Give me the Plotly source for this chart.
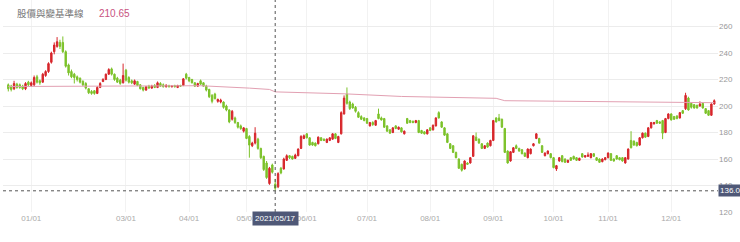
import plotly.graph_objects as go

# ---------------- data ----------------
open_ = [
    216, 215, 213, 216.5, 216, 215, 213, 218, 215.5, 216,
    222, 219, 218, 223, 226, 233, 241, 245, 248, 248,
    241, 231, 226, 224, 222, 221, 218.5, 217, 213, 211,
    211.5, 209.5, 214, 218.5, 220, 224, 228, 224, 221, 219.5,
    217.5, 227, 221.5, 219, 216.5, 218.5, 216, 214, 212, 215,
    213.5, 215.5, 214, 217, 216, 214.5, 215.5, 214.5, 215.5, 214,
    215.5, 215.5, 224, 221.5, 220, 217.5, 215, 219, 217.5, 215,
    212.5, 208, 209, 203.5, 203, 203, 200, 197, 190, 191,
    187.5, 185, 181, 183, 177, 170, 172, 175, 168, 162,
    157, 141.5, 155.5, 141, 139, 153, 152.5, 159, 162.5, 162,
    160.5, 162.5, 168, 175.5, 179, 176, 172.5, 172, 171.5, 176,
    175, 172.5, 174, 175, 179, 172.5, 179, 194, 209, 203,
    201.5, 199, 195, 192, 191, 190.5, 185, 187.5, 185.5, 194,
    191, 190.5, 185, 182, 180, 185, 182.5, 183.5, 179, 190.5,
    189, 188.5, 187.5, 189, 181.5, 180.5, 179, 183.5, 182, 185,
    195, 188, 183.5, 179, 171.5, 170, 165, 160, 156, 152.5,
    157, 157, 162, 176.5, 175, 171.5, 168, 172, 170, 174,
    191, 191, 190, 183, 166, 158.5, 165, 170, 168, 167,
    164.5, 161, 164, 170, 175.5, 175.5, 170, 162.5, 164, 164,
    161, 152.5, 158.5, 162.5, 160, 157.5, 161, 162, 161, 159,
    164, 161.5, 162, 161, 164, 161, 160, 158, 159.5, 161,
    164, 160, 162.5, 161, 161, 157, 160, 174, 173.5, 172.5,
    170.5, 176, 179.5, 177, 183.5, 186.5, 189, 188, 189, 180,
    190.5, 194, 192, 192.5, 191, 196.5, 198, 206, 202, 201,
    200.5, 200, 202, 198, 196.5, 193, 201.5,
]
high = [
    217, 216, 219, 217.5, 217, 216, 218, 219, 218.5, 223,
    223.5, 220, 225, 227, 233, 241, 248, 252, 250, 252.5,
    242, 232, 227.5, 225, 223, 221.5, 219.5, 218, 213.5, 212,
    212, 215, 218, 221, 224.5, 228.5, 229, 224.5, 222, 220.5,
    232, 228, 222.5, 220, 220, 219, 216.5, 214.5, 215, 216,
    216, 216.5, 218.5, 218, 217, 216.5, 216, 215.5, 216, 216,
    216, 221, 225, 222, 220.5, 218, 217.5, 220, 218, 216,
    213, 209, 210, 205.5, 205.5, 203.5, 201, 197.5, 197, 192,
    188, 186, 184, 183.5, 178, 173, 184, 176, 168.5, 162.5,
    158.5, 154, 156.5, 145, 150, 154, 161, 163.5, 163, 162.5,
    164, 168, 178, 178.5, 179.5, 176.5, 173, 172.5, 177, 176.5,
    175.5, 175.5, 176.5, 179.5, 179.5, 177.5, 196, 208, 214, 204,
    202.5, 200, 196, 193, 191.5, 191, 188, 188.5, 189.5, 198,
    192, 191, 185.5, 182.5, 184, 185.5, 184.5, 184, 181.5, 191,
    189.5, 189, 189.5, 189.5, 182, 181, 182.5, 184, 186, 191.5,
    196, 188.5, 184, 179.5, 172, 170.5, 165.5, 160.5, 156.5, 159,
    157.5, 161.5, 178, 180, 175.5, 172, 170.5, 172.5, 174.5, 189.5,
    191.5, 194, 190.5, 183.5, 166.5, 166, 169, 171, 168.5, 167.5,
    165, 168, 168, 172, 179.5, 176, 170.5, 165, 166.5, 164.5,
    161.5, 155.5, 161.5, 163, 160.5, 159.5, 161.5, 162.5, 161.5, 161,
    164.5, 163, 165, 164.5, 164.5, 161.5, 160.5, 160.5, 161.5, 165,
    164.5, 160.5, 163, 161.5, 161.5, 161.5, 168, 181, 174, 173,
    176.5, 180, 180, 184, 188, 188, 189.5, 188.5, 189.5, 191,
    194.5, 194.5, 192.5, 193, 195.5, 197, 210, 207, 202.5, 201.5,
    201, 203.5, 202.5, 198.5, 197, 202, 205,
]
low = [
    211, 211, 212, 213, 213, 212, 212, 215, 214.5, 215,
    217, 216, 217.5, 222, 225, 232, 239, 244, 243, 240,
    229, 223, 221, 217, 218.5, 217, 215, 212.5, 209, 208.5,
    208.5, 209, 213.5, 218, 219.5, 223.5, 223, 219, 217.5, 216,
    217, 218.5, 217, 216.5, 216, 215, 212.5, 211, 211.5, 213,
    213, 213.5, 213.5, 214.5, 214, 214, 214, 214, 214, 213.5,
    214.5, 215, 220, 218, 217, 214.5, 214.5, 216, 214.5, 211,
    206, 202, 205, 202.5, 202, 198, 196, 187, 189, 186.5,
    183, 182, 180, 175, 161, 169, 171, 167, 160, 151,
    145, 140.5, 149, 136, 138, 148.5, 152, 158.5, 160, 159.5,
    160, 162, 167.5, 175, 175.5, 170, 170, 169.5, 171, 173.5,
    173.5, 172, 173.5, 174.5, 175, 172, 178.5, 193.5, 201, 197,
    198, 195, 191, 189.5, 188.5, 186.5, 184.5, 185, 185, 190,
    189, 183.5, 180.5, 179, 179.5, 182.5, 182, 180, 178.5, 186.5,
    187, 187, 187, 179.5, 179, 178.5, 178.5, 181, 181.5, 184.5,
    190.5, 183.5, 177.5, 172, 167.5, 164.5, 160.5, 152.5, 150.5, 152,
    155.5, 156.5, 161.5, 173.5, 171.5, 167.5, 167.5, 168.5, 169.5, 173.5,
    187.5, 188.5, 183.5, 164.5, 156.5, 158, 164.5, 167.5, 165.5, 163.5,
    161.5, 160.5, 163.5, 169.5, 175, 171.5, 164.5, 162, 163.5, 160.5,
    153, 151, 158, 157.5, 157, 157, 158.5, 159.5, 158.5, 158.5,
    161, 161, 161.5, 160.5, 161.5, 158.5, 157, 157.5, 159, 160.5,
    158.5, 158, 159.5, 159, 158, 156.5, 159.5, 168, 170, 169.5,
    170, 175.5, 176, 176.5, 183, 186, 186.5, 186.5, 175, 179.5,
    190, 189, 189.5, 190, 190.5, 194, 197, 196.5, 198, 198,
    198, 199.5, 198, 194, 192.5, 192.5, 201,
]
close = [
    213, 212.5, 217, 214, 214, 213, 217, 216, 217.5, 221.5,
    218, 217.5, 224, 226, 232, 240, 246, 248.5, 245, 241,
    230, 225, 222, 221.5, 220, 218, 216, 213.5, 210, 209.5,
    209.5, 214, 217, 220, 224, 227.5, 224, 220, 218, 217,
    223, 219.5, 218, 217.5, 219, 215.5, 213, 212, 214.5, 213.5,
    215, 214, 217.5, 215, 214.5, 215.5, 214.5, 215, 214.5, 215.5,
    215, 220.5, 221, 219, 217.5, 215, 217, 216.5, 215, 212,
    207, 203.5, 205.5, 205, 204.5, 199, 197, 188, 196, 187.5,
    184, 183, 183.5, 175.5, 170.5, 172, 179.5, 168, 161, 152,
    146, 153, 150, 138, 149, 149.5, 160, 162.5, 161, 160,
    163, 167.5, 177, 177.5, 176, 170.5, 170.5, 170, 176.5, 174,
    174, 175, 176, 179, 175.5, 177, 195, 206, 202, 198,
    198.5, 196, 191.5, 190, 189, 187, 187.5, 186, 189, 190.5,
    189.5, 184, 181, 179.5, 183.5, 183, 184, 180.5, 181, 187,
    187.5, 187.5, 189, 180, 179.5, 179, 182, 181.5, 185.5, 191,
    191, 184, 178, 172.5, 168, 165, 161, 153, 151.5, 158.5,
    156, 161, 177.5, 174, 172, 168, 170, 169, 174, 189,
    188, 189, 184, 165, 157, 165.5, 168.5, 168, 166, 164,
    162, 167.5, 167.5, 171.5, 179, 172, 165, 164.5, 166, 161,
    153.5, 155, 161, 158, 157.5, 159, 159, 160, 159, 160.5,
    161.5, 162.5, 163, 164, 162, 159, 157.5, 160, 161, 164.5,
    159, 158.5, 160, 159.5, 158.5, 161, 167.5, 168.5, 170.5, 170,
    176, 179.5, 176.5, 183.5, 187.5, 187.5, 187, 187, 179.5, 190.5,
    194, 189.5, 190, 190.5, 195, 194.5, 208, 197, 199, 198.5,
    198.5, 201.5, 198.5, 194.5, 193, 201.5, 204,
]

# reference line (股價與變基準線) read at a few trading-day positions
line_idx = [0, 33, 67, 84, 91, 93, 117, 137, 170, 173, 210, 246]
line_val = [214.7, 215.0, 215.3, 213.5, 212.5, 210.65, 209.2, 207.2, 205.8, 204.0, 203.4, 202.5]

# month tick labels (trading-day index of each first trading day)
month_idx = [8, 41, 63, 83, 104, 125, 147, 169, 190, 209, 231]
month_lbl = ["01/01", "03/01", "04/01", "05/01", "06/01", "07/01",
             "08/01", "09/01", "10/01", "11/01", "12/01"]

cross_idx = 93
cross_date = "2021/05/17"
cross_price = 136.00
legend_name = "股價與變基準線"
legend_value = "210.65"

n = len(close)
assert len(open_) == n and len(high) == n and len(low) == n, (len(open_), len(high), len(low), n)
idx = list(range(n))

RED = "#d7262b"
GREEN = "#7cc22a"
PINK = "#e2a0b2"
LABEL_BG = "#4f5877"
FONT = "Arial, Liberation Sans, Noto Sans CJK TC, sans-serif"

fig = go.Figure()
fig.add_trace(go.Candlestick(
    x=idx, open=open_, high=high, low=low, close=close,
    increasing=dict(line=dict(color=RED, width=1), fillcolor=RED),
    decreasing=dict(line=dict(color=GREEN, width=1), fillcolor=GREEN),
    whiskerwidth=0, hoverinfo="skip", showlegend=False,
))
fig.add_trace(go.Scatter(
    x=line_idx, y=line_val, mode="lines",
    line=dict(color=PINK, width=1), hoverinfo="skip", showlegend=False,
))

fig.update_layout(
    width=740, height=242,
    margin=dict(l=3, r=22, t=0, b=30),
    paper_bgcolor="white", plot_bgcolor="white",
    font=dict(family=FONT, size=8, color="#999"),
    showlegend=False,
    xaxis=dict(
        range=[-1.85, 247.3], tickmode="array", tickvals=month_idx, ticktext=month_lbl,
        showgrid=True, gridcolor="#f2f2f2", gridwidth=1, zeroline=False, showline=False,
        ticks="", tickfont=dict(size=8, color="#aaaaaa"), rangeslider=dict(visible=False),
        fixedrange=True,
    ),
    yaxis=dict(
        side="right", range=[120, 280], tick0=120, dtick=20,
        showgrid=True, gridcolor="#ececec", gridwidth=1, zeroline=False, showline=False,
        ticks="", tickfont=dict(size=8, color="#999999"), fixedrange=True,
    ),
    shapes=[
        dict(type="line", xref="x", yref="paper", x0=cross_idx, x1=cross_idx, y0=0, y1=1,
             line=dict(color="#555", width=1, dash="3px,3px")),
        dict(type="line", xref="paper", yref="y", x0=0, x1=1, y0=cross_price, y1=cross_price,
             line=dict(color="#555", width=1, dash="3px,3px")),
    ],
    annotations=[
        dict(x=cross_idx, xref="x", y=0, yref="paper", yanchor="top", xanchor="center",
             text=cross_date, showarrow=False, bgcolor=LABEL_BG, borderpad=2, yshift=1,
             font=dict(color="white", size=8, family=FONT)),
        dict(x=1, xref="paper", y=cross_price, yref="y", xanchor="left", yanchor="middle",
             text=f"{cross_price:.2f}", showarrow=False, bgcolor=LABEL_BG, borderpad=1,
             font=dict(color="white", size=8, family=FONT)),
        dict(x=0, xref="paper", y=1, yref="paper", xanchor="left", yanchor="top",
             xshift=12, yshift=-6, text=legend_name, showarrow=False,
             font=dict(color="#777", size=9.5, family=FONT)),
        dict(x=0, xref="paper", y=1, yref="paper", xanchor="left", yanchor="top",
             xshift=94, yshift=-6, text=legend_value, showarrow=False,
             font=dict(color="#c8527f", size=10, family=FONT)),
    ],
)

fig.write_html("out.html", config={"displayModeBar": False})
